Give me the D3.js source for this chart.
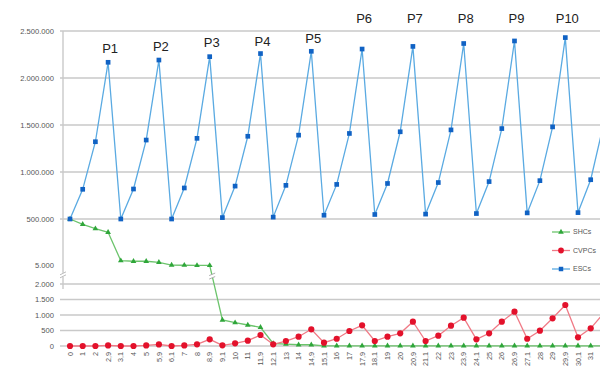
<!DOCTYPE html>
<html><head><meta charset="utf-8">
<script src="https://cdn.jsdelivr.net/npm/d3@7"></script>
<style>html,body{margin:0;padding:0;background:#fff;} svg{display:block;font-family:"Liberation Sans",Arial,sans-serif;}</style>
</head><body>
<svg id="c" width="600" height="375"></svg>
<script>
const categories = ["0","1","2","2,9","3,1","4","5","5,9","6,1","7","8","8,9","9,1","10","11","11,9","12,1","13","14","14,9","15,1","16","17","17,9","18,1","19","20","20,9","21,1","22","23","23,9","24,1","25","26","26,9","27,1","28","29","29,9","30,1","31","32","32,9"];

const escValues = [500000,816000,1322000,2167000, 500000,819000,1340000,2191000, 500000,830000,1358000,2227000,
  515000,850000,1380000,2260000, 520000,858000,1392000,2284000, 540000,868000,1410000,2308000,
  548000,878000,1428000,2336000, 552000,888000,1448000,2367000, 558000,898000,1462000,2394000,
  565000,908000,1480000,2430000, 568000,918000,1500000,2460000];

const cvpcValues = [0,0,0,20,0,0,20,50,0,20,55,216, 23,87,171,355, 55,161,300,539, 106,235,484,668,
  161,300,410,784, 161,332,655,913, 216,410,784,1106, 235,494,894,1323, 281,571,1050,1500];

const shcValues = [500000,444000,397000,359000, 58000,52000,52000,41000,12000,10000,8000,8000,
  839,752,677,603, 80,60,40,40, 5,5,5,5,5,5,5,5,5,5,5,5,5,5,5,5,5,5,5,5,5,5,5,5];

const upperTicks = [500000,1000000,1500000,2000000,2500000];
const middleTicks = [5000];
const lowerTicks = [0,500,1000,1500,2000];

const peakLabels = ["P1","P2","P3","P4","P5","P6","P7","P8","P9","P10"];
const peakCats = ["2,9","5,9","8,9","11,9","14,9","17,9","20,9","23,9","26,9","29,9"];
const peakLabelValues = [2265000,2290000,2335000,2345000,2370000,2590000,2590000,2590000,2590000,2590000];

const seriesNames = ["SHCs","CVPCs","ESCs"];

const svg = d3.select("#c");
const W = 600;
const x = d3.scalePoint().domain(categories).range([70, 70 + 12.7*(categories.length-1)]);
// broken axis: lower 0–2000, compressed 2000–5000 break, middle 5000–500000, upper 500000–2500000
const y = d3.scaleLinear().domain([0,2000,5000,500000,2500000]).range([346,284,265.7,219,31]);

const fmt = d3.formatLocale({decimal:",",thousands:".",grouping:[3],currency:["",""]}).format(",d");

const gridColor = "#c9c9c9";
const g = svg.append("g");

// gridlines
g.selectAll("line.grid").data(upperTicks.concat(lowerTicks)).join("line")
  .attr("x1", 60).attr("x2", W).attr("y1", d=>y(d)).attr("y2", d=>y(d))
  .attr("stroke", gridColor).attr("stroke-width", 1.6);

// y axis line
g.append("line").attr("x1",63).attr("x2",63).attr("y1",y(2500000)).attr("y2",y(2000)+5)
  .attr("stroke",gridColor).attr("stroke-width",1.4);

// axis break mark
const bk = g.append("g").attr("transform",`translate(63,${(y(2000)+y(5000))/2})`);
bk.append("rect").attr("x",-4).attr("y",-2).attr("width",8).attr("height",4).attr("fill","#fff");
bk.append("line").attr("x1",-3).attr("x2",3).attr("y1",0).attr("y2",-3).attr("stroke","#aaa").attr("stroke-width",0.8);
bk.append("line").attr("x1",-3).attr("x2",3).attr("y1",3).attr("y2",0).attr("stroke","#aaa").attr("stroke-width",0.8);

// y labels
g.selectAll("text.yl").data(upperTicks.concat(middleTicks, lowerTicks)).join("text")
  .attr("x", 54).attr("y", d=>y(d)).attr("dy","0.35em").attr("text-anchor","end")
  .attr("font-size", 7.6).attr("fill","#555").text(d=>fmt(d));

// x labels (only those inside the visible frame)
g.selectAll("text.xl").data(categories.filter(c=>x(c) < W-6)).join("text")
  .attr("transform", d=>`translate(${x(d)+2.6},352) rotate(-90)`)
  .attr("text-anchor","end").attr("font-size",7.2).attr("fill","#555").text(d=>d);

// series
function drawSeries(vals, lineColor, markColor, sym, size){
  const pts = categories.map((c,i)=>[x(c), y(vals[i])]);
  g.append("path").attr("d", d3.line()(pts)).attr("fill","none").attr("stroke",lineColor).attr("stroke-width",1.3);
  g.selectAll(null).data(pts).join("path")
    .attr("transform", p=>`translate(${p[0]},${p[1]})`)
    .attr("d", d3.symbol().type(sym).size(size)).attr("fill",markColor);
  return pts;
}
const shcPts = drawSeries(shcValues, "#6cc46c", "#2fa63a", d3.symbolTriangle, 14);
drawSeries(cvpcValues, "#f07a86", "#e3112b", d3.symbolCircle, 30);
drawSeries(escValues, "#5aaae2", "#1062c4", d3.symbolSquare, 22);

// break mark on green line between 8,9 and 9,1
{
  const a = shcPts[11], b = shcPts[12];
  const t = (y(3300)-a[1])/(b[1]-a[1]);
  const px = a[0]+(b[0]-a[0])*t, py = a[1]+(b[1]-a[1])*t;
  const m = g.append("g").attr("transform",`translate(${px},${py})`);
  m.append("rect").attr("x",-4).attr("y",-1.8).attr("width",8).attr("height",3.6).attr("fill","#fff");
  m.append("line").attr("x1",-3).attr("x2",3).attr("y1",-0.5).attr("y2",-3).attr("stroke","#999").attr("stroke-width",0.8);
  m.append("line").attr("x1",-3).attr("x2",3).attr("y1",3).attr("y2",0.5).attr("stroke","#999").attr("stroke-width",0.8);
}

// peak labels
g.selectAll("text.pl").data(peakLabels).join("text")
  .attr("x",(d,i)=>x(peakCats[i])+2).attr("y",(d,i)=>y(peakLabelValues[i]))
  .attr("text-anchor","middle").attr("font-size",13).attr("fill","#222").text(d=>d);

// legend
const legColors = [["#6cc46c","#2fa63a",d3.symbolTriangle,14],["#f07a86","#e3112b",d3.symbolCircle,26],["#5aaae2","#1062c4",d3.symbolSquare,20]];
const lg = g.append("g");
seriesNames.forEach((n,i)=>{
  const yy = 232 + i*18.5;
  lg.append("line").attr("x1",552).attr("x2",570).attr("y1",yy).attr("y2",yy).attr("stroke",legColors[i][0]).attr("stroke-width",1.3);
  lg.append("path").attr("transform",`translate(561,${yy})`).attr("d",d3.symbol().type(legColors[i][2]).size(legColors[i][3])).attr("fill",legColors[i][1]);
  lg.append("text").attr("x",573).attr("y",yy).attr("dy","0.35em").attr("font-size",7).attr("fill","#555").text(n);
});
</script>
</body></html>
